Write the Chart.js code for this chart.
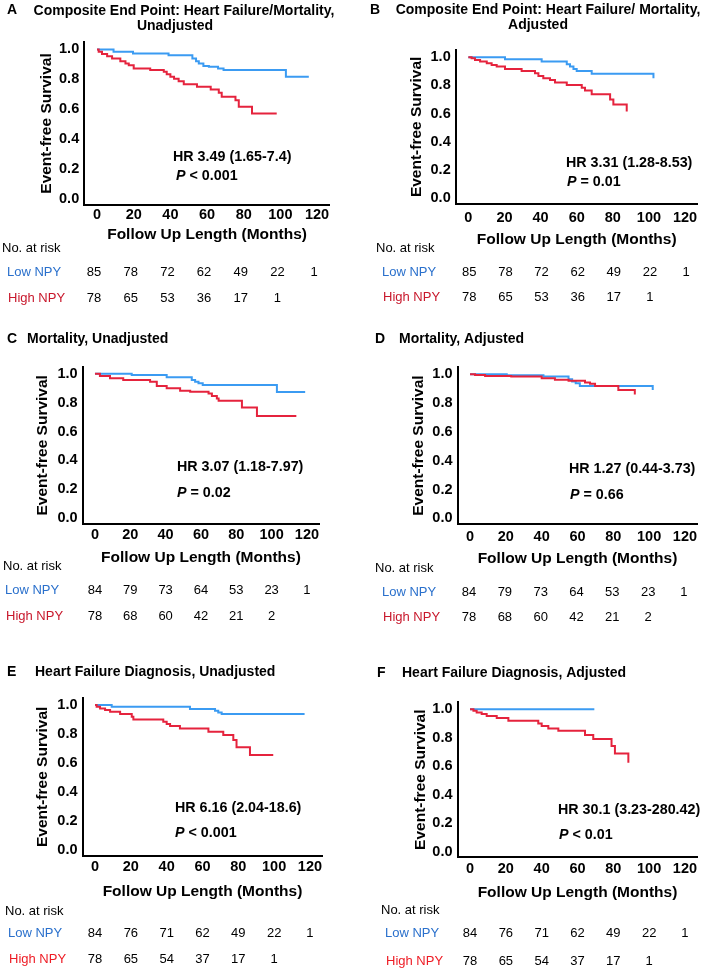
<!DOCTYPE html>
<html><head><meta charset="utf-8">
<script src="https://cdn.jsdelivr.net/npm/chart.js@4.4.1/dist/chart.umd.min.js"></script>
<style>
html,body{margin:0;padding:0;background:#fff;}
#wrap{position:relative;width:709px;height:969px;overflow:hidden;background:#fff;}
canvas{position:absolute;}
</style>
</head><body><div id="wrap"></div>
<script>
// ---------- tick labels ----------
const xTicks = [0, 20, 40, 60, 80, 100, 120];
const yTicks = [0, 0.2, 0.4, 0.6, 0.8, 1.0];

// ---------- Panel A: composite, unadjusted ----------
const aLowT  = [0, 9, 19.6, 39, 52, 54, 55.5, 58, 61, 66, 69, 103, 115.5];
const aLowS  = [1, 0.984, 0.973, 0.962, 0.94, 0.922, 0.906, 0.889, 0.884, 0.873, 0.862, 0.817, 0.817];
const aHighT = [0, 0.9, 2.7, 5.5, 8.2, 12.7, 15.5, 17.3, 20, 29, 36.4, 38, 40, 42, 44.5, 47.3, 54.5, 62, 66.4, 68, 75.5, 77.3, 84.5, 98];
const aHighS = [1, 0.984, 0.969, 0.955, 0.94, 0.922, 0.906, 0.895, 0.873, 0.862, 0.851, 0.835, 0.817, 0.804, 0.788, 0.768, 0.751, 0.733, 0.71, 0.684, 0.661, 0.617, 0.572, 0.572];

// ---------- Panel B: composite, adjusted ----------
const bLowT  = [0, 20.3, 40.6, 54.5, 56.3, 58.2, 60, 68.3, 102.5];
const bLowS  = [1, 0.986, 0.969, 0.95, 0.934, 0.917, 0.903, 0.882, 0.851];
const bHighT = [0, 1.8, 3.7, 6.5, 10.2, 12.9, 15.7, 20.3, 29.5, 36.9, 38.8, 41.5, 45.2, 48, 54.5, 62.8, 64.6, 68.3, 78.5, 80.3, 87.7];
const bHighS = [1, 0.993, 0.981, 0.969, 0.957, 0.945, 0.934, 0.917, 0.903, 0.886, 0.867, 0.851, 0.839, 0.82, 0.803, 0.784, 0.763, 0.737, 0.70, 0.665, 0.615];

// ---------- Panel C: mortality, unadjusted ----------
const cLowT  = [0, 20.8, 40.6, 54.8, 56.7, 58.6, 61, 103, 119];
const cLowS  = [1, 0.991, 0.975, 0.956, 0.945, 0.935, 0.922, 0.873, 0.873];
const cHighT = [0, 2.8, 8.5, 16, 31.2, 35, 40.6, 48.2, 53.9, 64.3, 66.2, 69, 70, 83.2, 91.7, 114];
const cHighS = [1, 0.984, 0.968, 0.956, 0.945, 0.915, 0.899, 0.882, 0.876, 0.864, 0.846, 0.829, 0.813, 0.767, 0.707, 0.707];

// ---------- Panel D: mortality, adjusted ----------
const dLowT  = [0, 20.5, 41, 55, 57, 59, 61.3, 102];
const dLowS  = [1, 0.993, 0.984, 0.965, 0.949, 0.938, 0.919, 0.891];
const dHighT = [0, 2.8, 8.4, 23, 40, 47.4, 55, 64.2, 67, 69.8, 82.8, 92];
const dHighS = [1, 0.995, 0.988, 0.984, 0.972, 0.961, 0.954, 0.942, 0.933, 0.919, 0.891, 0.86];

// ---------- Panel E: heart failure, unadjusted ----------
const eLowT  = [0, 9.3, 53, 67, 68.8, 70.7, 117];
const eLowS  = [1, 0.989, 0.972, 0.961, 0.949, 0.938, 0.938];
const eHighT = [0, 0.9, 2.8, 5.6, 8.4, 14, 20.5, 21.4, 38.1, 40, 41.9, 47.4, 63.3, 71.6, 77.2, 79, 86.5, 99.5];
const eHighS = [1, 0.989, 0.977, 0.966, 0.954, 0.938, 0.92, 0.901, 0.885, 0.869, 0.855, 0.839, 0.816, 0.793, 0.759, 0.708, 0.655, 0.655];

// ---------- Panel F: heart failure, adjusted ----------
const fLowT  = [0, 69.4];
const fLowS  = [1, 1];
const fHighT = [0, 1.9, 3.7, 6.5, 9.3, 14.9, 21.4, 38.1, 40, 43.7, 49.3, 64.2, 68.8, 79, 80.9, 88.4];
const fHighS = [1, 0.988, 0.977, 0.965, 0.951, 0.937, 0.918, 0.90, 0.881, 0.864, 0.848, 0.818, 0.79, 0.741, 0.689, 0.624];

// ---------- numbers at risk ----------
const riskLowAB  = [85, 78, 72, 62, 49, 22, 1];
const riskHighAB = [78, 65, 53, 36, 17, 1];
const riskLowCD  = [84, 79, 73, 64, 53, 23, 1];
const riskHighCD = [78, 68, 60, 42, 21, 2];
const riskLowEF  = [84, 76, 71, 62, 49, 22, 1];
const riskHighEF = [78, 65, 54, 37, 17, 1];

// ---------- styling ----------
const FONT = '"Liberation Sans", Arial, Helvetica, sans-serif';
const BLUE_LINE = '#3b9bf2';
const RED_LINE = '#e5233d';
const BLUE_TXT = '#2a70cc';
const RED_TXT_DARK = '#c8182c';
const RED_TXT_BRIGHT = '#ee1c25';
const X_MIN = -7, X_MAX = 127, Y_MIN = -0.04, Y_MAX = 1.05;
const TITLE_SIZE = 15.5, TICK_SIZE = 14.5;

const panels = [
  { letter:'A', canvas:[0,0,354,328], area:[84.2,42,329.9,205], yTitleX:47, xTitleY:235, tickPad:2,
    letterPos:[7,10], titles:[['Composite End Point: Heart Failure/Mortality,',184,11,'center'],['Unadjusted',175,26,'center']],
    hr:'HR 3.49 (1.65-7.4)', hrPos:[173,157], p:' < 0.001', pPos:[176,176],
    noRisk:[2,248], lowLab:[7,272], highLab:[8,298], shift:-3, highColor:RED_TXT_DARK,
    lowT:aLowT, lowS:aLowS, highT:aHighT, highS:aHighS, riskLow:riskLowAB, riskHigh:riskHighAB },
  { letter:'B', canvas:[354,0,355,328], area:[455.7,50.2,697.7,203.6], yTitleX:417, xTitleY:240, tickPad:6,
    letterPos:[370,10], titles:[['Composite End Point: Heart Failure/ Mortality,',548,10,'center'],['Adjusted',538,25.5,'center']],
    hr:'HR 3.31 (1.28-8.53)', hrPos:[566,163], p:' = 0.01', pPos:[567,182],
    noRisk:[376,248], lowLab:[382,272], highLab:[383,297], shift:1, highColor:RED_TXT_DARK,
    lowT:bLowT, lowS:bLowS, highT:bHighT, highS:bHighS, riskLow:riskLowAB, riskHigh:riskHighAB },
  { letter:'C', canvas:[0,328,354,312], area:[82.6,366.5,319.3,524.1], yTitleX:42.7, xTitleY:558, tickPad:2.5,
    letterPos:[7,339], titles:[['Mortality, Unadjusted',27,339,'left']],
    hr:'HR 3.07 (1.18-7.97)', hrPos:[177,467], p:' = 0.02', pPos:[177,493],
    noRisk:[3,566], lowLab:[5,590], highLab:[6,616], shift:0, highColor:RED_TXT_DARK,
    lowT:cLowT, lowS:cLowS, highT:cHighT, highS:cHighS, riskLow:riskLowCD, riskHigh:riskHighCD },
  { letter:'D', canvas:[354,328,355,312], area:[457.5,367,697.5,524.1], yTitleX:419, xTitleY:559, tickPad:4.5,
    letterPos:[375,339], titles:[['Mortality, Adjusted',399,339,'left']],
    hr:'HR 1.27 (0.44-3.73)', hrPos:[569,469], p:' = 0.66', pPos:[570,495],
    noRisk:[375,568], lowLab:[382,592], highLab:[383,617], shift:-1, highColor:RED_TXT_DARK,
    lowT:dLowT, lowS:dLowS, highT:dHighT, highS:dHighS, riskLow:riskLowCD, riskHigh:riskHighCD },
  { letter:'E', canvas:[0,640,354,329], area:[82.5,697.8,322.5,855.8], yTitleX:42.7, xTitleY:892, tickPad:2.8,
    letterPos:[7,672], titles:[['Heart Failure Diagnosis, Unadjusted',35,672,'left']],
    hr:'HR 6.16 (2.04-18.6)', hrPos:[175,808], p:' < 0.001', pPos:[175,833],
    noRisk:[5,911], lowLab:[8,933], highLab:[9,959], shift:0, highColor:RED_TXT_BRIGHT,
    lowT:eLowT, lowS:eLowS, highT:eHighT, highS:eHighS, riskLow:riskLowEF, riskHigh:riskHighEF },
  { letter:'F', canvas:[354,640,355,329], area:[457.5,702,697.5,857.4], yTitleX:421, xTitleY:893, tickPad:3.2,
    letterPos:[377,673], titles:[['Heart Failure Diagnosis, Adjusted',402,673,'left']],
    hr:'HR 30.1 (3.23-280.42)', hrPos:[558,810], p:' < 0.01', pPos:[559,835],
    noRisk:[381,910], lowLab:[385,933], highLab:[386,961], shift:0, highColor:RED_TXT_BRIGHT,
    lowT:fLowT, lowS:fLowS, highT:fHighT, highS:fHighS, riskLow:riskLowEF, riskHigh:riskHighEF }
];

function ds(t, s, color, label) {
  return { label, data: t.map((x, i) => ({ x, y: s[i] })), borderColor: color, borderWidth: 2,
           stepped: true, pointRadius: 0, pointHoverRadius: 0, fill: false, tension: 0 };
}

function textPlugin(p) {
  return {
    id: 'panelText' + p.letter,
    afterDraw(chart) {
      const ctx = chart.ctx, ox = p.canvas[0], oy = p.canvas[1];
      const xs = chart.scales.x;
      ctx.save();
      ctx.textBaseline = 'middle';
      ctx.fillStyle = '#000';
      ctx.font = 'bold 14px ' + FONT;
      ctx.textAlign = 'left';
      ctx.fillText(p.letter, p.letterPos[0] - ox, p.letterPos[1] - oy);
      for (const [txt, x, y, al] of p.titles) {
        ctx.textAlign = al;
        ctx.fillText(txt, x - ox, y - oy);
      }
      ctx.textAlign = 'left';
      ctx.font = 'bold 14.3px ' + FONT;
      ctx.fillText(p.hr, p.hrPos[0] - ox, p.hrPos[1] - oy);
      ctx.font = 'italic bold 14.3px ' + FONT;
      ctx.fillText('P', p.pPos[0] - ox, p.pPos[1] - oy);
      const w = ctx.measureText('P').width;
      ctx.font = 'bold 14.3px ' + FONT;
      ctx.fillText(p.p, p.pPos[0] - ox + w, p.pPos[1] - oy);
      // risk table
      ctx.font = '13px ' + FONT;
      ctx.fillStyle = '#000';
      ctx.fillText('No. at risk', p.noRisk[0] - ox, p.noRisk[1] - oy);
      ctx.fillStyle = BLUE_TXT;
      ctx.fillText('Low NPY', p.lowLab[0] - ox, p.lowLab[1] - oy);
      ctx.fillStyle = p.highColor;
      ctx.fillText('High NPY', p.highLab[0] - ox, p.highLab[1] - oy);
      ctx.fillStyle = '#000';
      ctx.textAlign = 'center';
      xTicks.forEach((t, i) => {
        const px = xs.getPixelForValue(t) + p.shift;
        if (i < p.riskLow.length) ctx.fillText(String(p.riskLow[i]), px, p.lowLab[1] - oy);
        if (i < p.riskHigh.length) ctx.fillText(String(p.riskHigh[i]), px, p.highLab[1] - oy);
      });
      ctx.restore();
    }
  };
}

const wrap = document.getElementById('wrap');
panels.forEach(p => {
  const [cx, cy, cw, ch] = p.canvas;
  const [L, T, R, B] = p.area;
  const cv = document.createElement('canvas');
  cv.width = cw; cv.height = ch;
  cv.style.left = cx + 'px'; cv.style.top = cy + 'px';
  cv.style.width = cw + 'px'; cv.style.height = ch + 'px';
  wrap.appendChild(cv);
  const titleLH = TITLE_SIZE * 1.2;
  const tickLH = TICK_SIZE * 1.2;
  const yLeft = p.yTitleX - titleLH / 2;
  const YW = L - yLeft;
  const XH = p.xTitleY + titleLH / 2 - B;
  const padding = {
    left: yLeft - cx,
    top: T - cy,
    right: cx + cw - R,
    bottom: (cy + ch) - (B + XH)
  };
  new Chart(cv, {
    type: 'line',
    data: { datasets: [ ds(p.highT, p.highS, RED_LINE, 'High NPY'), ds(p.lowT, p.lowS, BLUE_LINE, 'Low NPY') ] },
    options: {
      responsive: false, animation: false, devicePixelRatio: 1,
      layout: { padding },
      events: [],
      plugins: { legend: { display: false }, tooltip: { enabled: false }, title: { display: false } },
      scales: {
        x: {
          type: 'linear', min: X_MIN, max: X_MAX,
          afterBuildTicks: s => { s.ticks = xTicks.map(v => ({ value: v })); },
          afterFit: s => { s.height = XH; },
          grid: { display: false, drawTicks: false },
          border: { display: true, color: '#000', width: 2 },
          ticks: { padding: p.tickPad - (tickLH - 16.8) / 2, color: '#000', font: { family: FONT, size: TICK_SIZE, weight: 'bold' },
                   autoSkip: false, maxRotation: 0, callback: v => String(v) },
          title: { display: true, text: 'Follow Up Length (Months)', color: '#000', padding: 0,
                   font: { family: FONT, size: TITLE_SIZE, weight: 'bold' } }
        },
        y: {
          type: 'linear', min: Y_MIN, max: Y_MAX,
          afterBuildTicks: s => { s.ticks = yTicks.map(v => ({ value: v })); },
          afterFit: s => { s.width = YW; },
          grid: { display: false, drawTicks: false },
          border: { display: true, color: '#000', width: 2 },
          ticks: { padding: 5, color: '#000', font: { family: FONT, size: TICK_SIZE, weight: 'bold' },
                   autoSkip: false, callback: v => Number(v).toFixed(1) },
          title: { display: true, text: 'Event-free Survival', color: '#000', padding: 0,
                   font: { family: FONT, size: TITLE_SIZE, weight: 'bold' } }
        }
      }
    },
    plugins: [ textPlugin(p) ]
  });
});
</script>
</body></html>
